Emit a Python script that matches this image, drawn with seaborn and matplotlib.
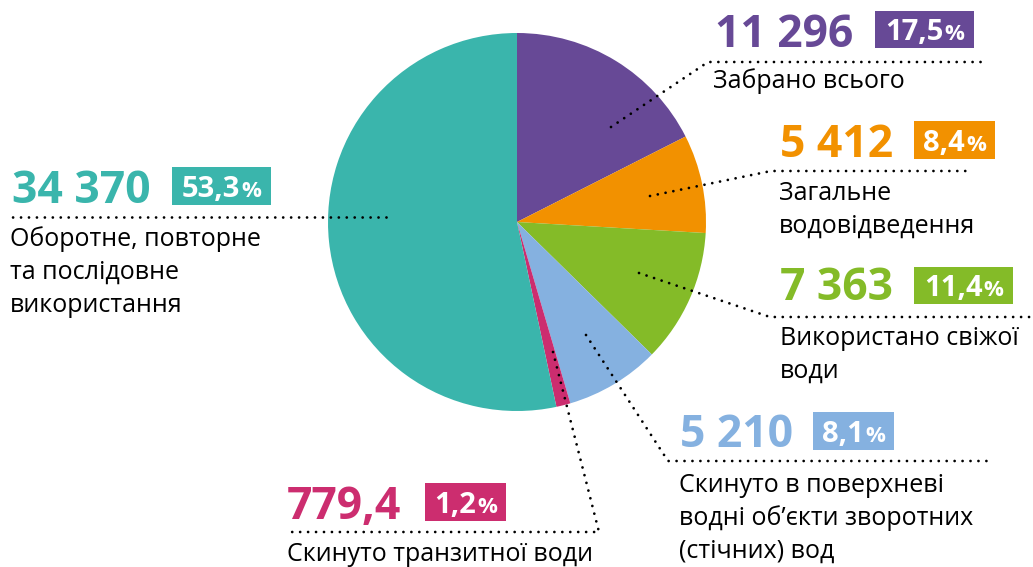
import matplotlib
matplotlib.use("Agg")
import matplotlib.pyplot as plt
from matplotlib.patches import Rectangle
import seaborn as sns

sns.set_style("white")
plt.rcParams['font.family'] = ['Open Sans', 'DejaVu Sans']

# data
categories = ["Забрано всього", "Загальне водовідведення", "Використано свіжої води",
              "Скинуто в поверхневі водні об’єкти зворотних (стічних) вод",
              "Скинуто транзитної води", "Оборотне, повторне та послідовне використання"]
values = [11296, 5412, 7363, 5210, 779.4, 34370]
colors = ["#674996", "#F29100", "#84BB28", "#85B1E0", "#CC2D6F", "#3AB5AC"]
label_lines = [
    ["Забрано всього"],
    ["Загальне", "водовідведення"],
    ["Використано свіжої", "води"],
    ["Скинуто в поверхневі", "водні об’єкти зворотних", "(стічних) вод"],
    ["Скинуто транзитної води"],
    ["Оборотне, повторне", "та послідовне", "використання"],
]

# layout (pixels, y from top)
center = (517, 222)
radius = 189
value_pos = [(715, 47), (780, 157), (780, 300), (680, 447), (287, 519), (12, 203)]
badges = [(875, 11, 974, 48), (914, 121, 995, 159), (914, 267, 1013, 304),
          (813, 412, 894, 450), (425, 483, 506, 521), (172, 167, 271, 205)]
label_pos = [(713, 88), (779, 200), (780, 345), (679, 492), (287, 561), (10, 246)]
line_gap = 33
leaders = [
    [(611, 127), (708, 62), (983, 62)],
    [(650, 196), (771, 171), (972, 171)],
    [(639, 273), (770, 317), (1033, 317)],
    [(586, 335), (668, 461), (990, 461)],
    [(553, 352), (599, 532), (287, 532)],
    [(386, 217), (10, 217)],
]

fig = plt.figure(figsize=(10.33, 5.67), dpi=100)
ax = fig.add_axes([0, 0, 1, 1])
ax.pie(values, colors=colors, startangle=270, counterclock=True,
       center=center, radius=radius, wedgeprops=dict(linewidth=0))
ax.set_xlim(0, 1033)
ax.set_ylim(567, 0)
ax.axis("off")

renderer = fig.canvas.get_renderer()
total = sum(values)

for i, v in enumerate(values):
    col = colors[i]
    pts = leaders[i]
    ax.plot([p[0] for p in pts], [p[1] for p in pts], color="black", lw=2.0,
            linestyle=(0, (0.01, 2.85)), dash_capstyle="round", zorder=5)

    if float(v).is_integer():
        vtxt = f"{int(v):,}".replace(",", " ")
    else:
        vtxt = f"{v:.1f}".replace(".", ",")
    ax.text(value_pos[i][0], value_pos[i][1], vtxt, color=col, fontsize=32,
            fontweight="bold", ha="left", va="baseline")

    x0, y0, x1, y1 = badges[i]
    ax.add_patch(Rectangle((x0, y0), x1 - x0, y1 - y0, color=col, lw=0))
    pct = f"{v / total * 100:.1f}".replace(".", ",")
    base = y1 - 8
    t1 = ax.text(0, base, pct, color="white", fontsize=21, fontweight="bold",
                 ha="left", va="baseline")
    t2 = ax.text(0, base, "%", color="white", fontsize=16, fontweight="bold",
                 ha="left", va="baseline")
    w1 = t1.get_window_extent(renderer).width
    w2 = t2.get_window_extent(renderer).width
    start = (x0 + x1) / 2 - (w1 + w2 + 1) / 2
    t1.set_x(start)
    t2.set_x(start + w1 + 1)

    lx, ly = label_pos[i]
    for k, line in enumerate(label_lines[i]):
        ax.text(lx, ly + k * line_gap, line, color="black", fontsize=18,
                ha="left", va="baseline")

fig.savefig("out.png", dpi=100)
